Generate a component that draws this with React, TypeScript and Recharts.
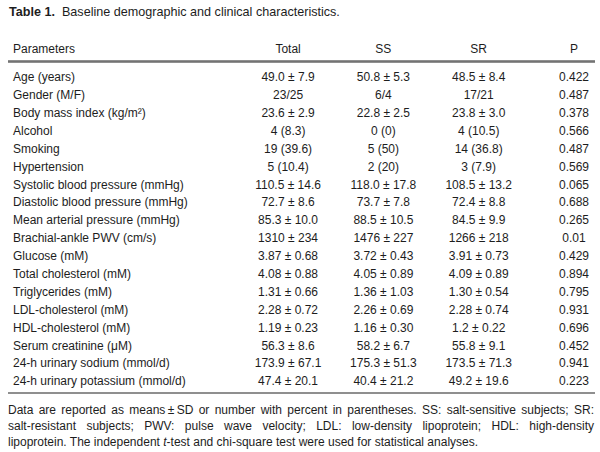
import { ScatterChart, Scatter, XAxis, YAxis } from "recharts";

const PARAMS = [
  "Age (years)",
  "Gender (M/F)",
  "Body mass index (kg/m²)",
  "Alcohol",
  "Smoking",
  "Hypertension",
  "Systolic blood pressure (mmHg)",
  "Diastolic blood pressure (mmHg)",
  "Mean arterial pressure (mmHg)",
  "Brachial-ankle PWV (cm/s)",
  "Glucose (mM)",
  "Total cholesterol (mM)",
  "Triglycerides (mM)",
  "LDL-cholesterol (mM)",
  "HDL-cholesterol (mM)",
  "Serum creatinine (μM)",
  "24-h urinary sodium (mmol/d)",
  "24-h urinary potassium (mmol/d)",
];

const COLUMNS = ["Total", "SS", "SR", "P"];

const TOTAL = [
  "49.0 ± 7.9", "23/25", "23.6 ± 2.9", "4 (8.3)", "19 (39.6)", "5 (10.4)",
  "110.5 ± 14.6", "72.7 ± 8.6", "85.3 ± 10.0", "1310 ± 234", "3.87 ± 0.68",
  "4.08 ± 0.88", "1.31 ± 0.66", "2.28 ± 0.72", "1.19 ± 0.23", "56.3 ± 8.6",
  "173.9 ± 67.1", "47.4 ± 20.1",
];
const SS = [
  "50.8 ± 5.3", "6/4", "22.8 ± 2.5", "0 (0)", "5 (50)", "2 (20)",
  "118.0 ± 17.8", "73.7 ± 7.8", "88.5 ± 10.5", "1476 ± 227", "3.72 ± 0.43",
  "4.05 ± 0.89", "1.36 ± 1.03", "2.26 ± 0.69", "1.16 ± 0.30", "58.2 ± 6.7",
  "175.3 ± 51.3", "40.4 ± 21.2",
];
const SR = [
  "48.5 ± 8.4", "17/21", "23.8 ± 3.0", "4 (10.5)", "14 (36.8)", "3 (7.9)",
  "108.5 ± 13.2", "72.4 ± 8.8", "84.5 ± 9.9", "1266 ± 218", "3.91 ± 0.73",
  "4.09 ± 0.89", "1.30 ± 0.54", "2.28 ± 0.74", "1.2 ± 0.22", "55.8 ± 9.1",
  "173.5 ± 71.3", "49.2 ± 19.6",
];
const P = [
  "0.422", "0.487", "0.378", "0.566", "0.487", "0.569", "0.065", "0.688",
  "0.265", "0.01", "0.429", "0.894", "0.795", "0.931", "0.696", "0.452",
  "0.941", "0.223",
];

const FOOTNOTE = [
  "Data are reported as means\u2009±\u2009SD or number with percent in parentheses. SS: salt-sensitive subjects; SR:",
  "salt-resistant subjects; PWV: pulse wave velocity; LDL: low-density lipoprotein; HDL: high-density",
];

const INK = "#1d1d1d";
const RULE = "#6a6a6a";
const FONT = 'Arial, "Liberation Sans", Helvetica, sans-serif';

// domains picked so the column centres and row pitch match the printed table
const X_MIN = -2.938;
const X_MAX = 3.22;
const Y_MIN = -0.85;
const Y_MAX = 17.65;

const series = [TOTAL, SS, SR, P].map((vals, c) =>
  vals.map((label, r) => ({ col: c, row: r, label }))
);

const Cell = (props: any) => {
  const { cx, cy, payload } = props;
  return (
    <text
      x={cx}
      y={cy}
      textAnchor="middle"
      dominantBaseline="central"
      fontSize={12}
      fill={INK}
      fontFamily={FONT}
    >
      {payload.label}
    </text>
  );
};

const HeaderTick = (props: any) => {
  const { x, y, payload } = props;
  const first = payload.value === X_MIN;
  return (
    <text
      x={first ? x + 5 : x}
      y={y - 12}
      textAnchor={first ? "start" : "middle"}
      dominantBaseline="central"
      fontSize={12}
      fill={INK}
      fontFamily={FONT}
    >
      {first ? "Parameters" : COLUMNS[payload.value]}
    </text>
  );
};

const RowTick = (props: any) => {
  const { y, payload } = props;
  return (
    <text
      x={13}
      y={y}
      textAnchor="start"
      dominantBaseline="central"
      fontSize={12}
      fill={INK}
      fontFamily={FONT}
    >
      {PARAMS[payload.value]}
    </text>
  );
};

export default function App() {
  return (
    <div
      style={{
        position: "absolute",
        left: 0,
        top: 0,
        width: 600,
        height: 452,
        background: "#fff",
        fontFamily: FONT,
        color: INK,
        overflow: "hidden",
      }}
    >
      <div style={{ position: "absolute", left: 9, top: 5, fontSize: 12.6 }}>
        <b>Table 1.</b>&nbsp; Baseline demographic and clinical characteristics.
      </div>
      <div style={{ position: "absolute", left: 0, top: 0 }}>
        <ScatterChart
          width={600}
          height={452}
          margin={{ top: 37, right: 5, bottom: 58, left: 8 }}
        >
          <XAxis
            xAxisId="top"
            orientation="top"
            type="number"
            dataKey="col"
            domain={[X_MIN, X_MAX]}
            ticks={[X_MIN, 0, 1, 2, 3]}
            interval={0}
            tick={<HeaderTick />}
            tickSize={0}
            tickMargin={0}
            tickLine={false}
            axisLine={{ stroke: RULE, strokeWidth: 1.5 }}
            height={24}
          />
          <XAxis
            xAxisId="rule"
            orientation="top"
            type="number"
            domain={[X_MIN, X_MAX]}
            ticks={[0]}
            tick={false}
            tickSize={0}
            tickLine={false}
            axisLine={{ stroke: RULE, strokeWidth: 1.5 }}
            height={1}
          />
          <XAxis
            xAxisId="bottom"
            orientation="bottom"
            type="number"
            domain={[X_MIN, X_MAX]}
            ticks={[0]}
            tick={false}
            tickSize={0}
            tickLine={false}
            axisLine={{ stroke: RULE, strokeWidth: 1.5 }}
            height={1}
          />
          <YAxis
            type="number"
            dataKey="row"
            reversed
            mirror
            domain={[Y_MIN, Y_MAX]}
            ticks={PARAMS.map((_, i) => i)}
            interval={0}
            tick={<RowTick />}
            tickLine={false}
            axisLine={false}
          />
          {series.map((data, c) => (
            <Scatter
              key={COLUMNS[c]}
              xAxisId="top"
              data={data}
              shape={<Cell />}
              isAnimationActive={false}
            />
          ))}
        </ScatterChart>
      </div>
      <div
        style={{
          position: "absolute",
          left: 8,
          top: 402,
          width: 586,
          fontSize: 12,
          lineHeight: "16px",
        }}
      >
        {FOOTNOTE.map((line) => (
          <div key={line} style={{ textAlign: "justify", textAlignLast: "justify" }}>
            {line}
          </div>
        ))}
        <div>
          lipoprotein. The independent <i>t</i>-test and chi-square test were used for statistical analyses.
        </div>
      </div>
    </div>
  );
}
